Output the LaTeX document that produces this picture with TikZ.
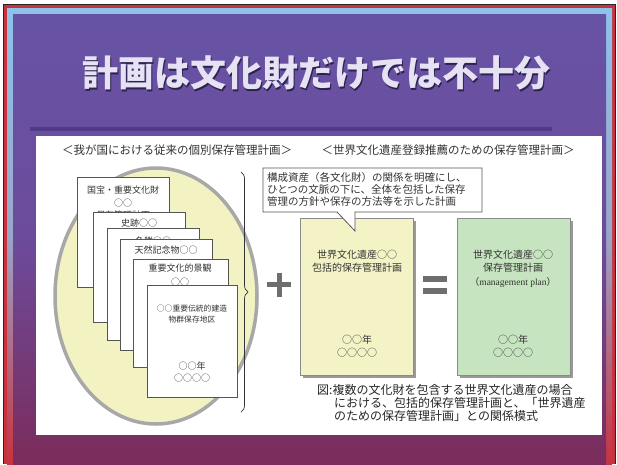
\documentclass[tikz,border=0pt]{standalone}
\usepackage{fontspec}
\newfontfamily\jp{Noto Sans CJK JP}
\newfontfamily\lserif{Liberation Serif}
\usetikzlibrary{decorations.pathreplacing}
\definecolor{slidepurple}{HTML}{6753A4}
\definecolor{slidemid}{HTML}{6C4B9C}
\definecolor{slidemaroon}{HTML}{7B2C5B}
\definecolor{framered}{HTML}{C8323F}
\definecolor{frameblue}{HTML}{8EC3EA}
\definecolor{barpurple}{HTML}{503A86}
\definecolor{ellfill}{HTML}{F3F2C2}
\definecolor{ellline}{HTML}{A8A8A8}
\definecolor{yboxfill}{HTML}{F4F3C6}
\definecolor{gboxfill}{HTML}{C6E4C0}
\definecolor{boxline}{HTML}{8A8A8A}
\definecolor{opgray}{HTML}{6E6E6E}
\definecolor{txtgray}{HTML}{333333}
\definecolor{pageline}{HTML}{555555}
\definecolor{titlecol}{HTML}{E6E2F4}
\definecolor{titleshadow}{HTML}{2B2250}
\tikzset{
  titletext/.style={font=\jp\bfseries\fontsize{36}{40}\selectfont, inner sep=0pt},
  headtext/.style={font=\jp\fontsize{11.5}{13}\selectfont, text=txtgray, inner sep=0pt},
  pagebox/.style={draw=pageline, fill=white, line width=0.8pt, anchor=north west, inner sep=0pt},
  pagetxt/.style={font=\jp\fontsize{9}{11}\selectfont, text=txtgray, inner sep=0pt},
  smalltxt/.style={font=\jp\fontsize{7.8}{10}\selectfont, text=txtgray, inner sep=0pt},
  boxtxt/.style={font=\jp\fontsize{10}{12}\selectfont, text=txtgray, inner sep=0pt},
  bigbox/.style={draw=boxline, line width=0.8pt, anchor=north west, inner sep=0pt, minimum width=113pt, minimum height=157pt},
  boxshadow/.style={fill=black!40},
  calltxt/.style={font=\jp\fontsize{10.5}{12}\selectfont, text=txtgray, inner sep=0pt, align=left},
  captxt/.style={font=\jp\fontsize{12}{13}\selectfont, text=black!85, inner sep=0pt, align=left},
  opbar/.style={fill=opgray}
}
\begin{document}
\begin{tikzpicture}[x=1pt,y=-1pt]
\useasboundingbox (0,0) rectangle (617,464);
% slide background
\fill[white] (0,0) rectangle (617,464);
\fill[black!85] (3,4) rectangle (616,464);
\fill[framered] (4,5) rectangle (615,464);
\shade[top color=frameblue, bottom color=framered, middle color=frameblue!80!framered] (7,8) rectangle (612,464);
\shade[top color=slidepurple, bottom color=slidemaroon, middle color=slidemid] (13,14) rectangle (606,464);
% title
\node[titletext, text=titleshadow] (titleshadow) at (317.5,74.5) {計画は文化財だけでは不十分};
\node[titletext, text=titlecol] (title) at (316,73) {計画は文化財だけでは不十分};
% bar and panel
\fill[barpurple] (30,127) rectangle (552,130.5);
\fill[white] (36,136) rectangle (602,435);
% headers
\node[headtext] (headL) at (177,150) {＜我が国における従来の個別保存管理計画＞};
\node[headtext] (headR) at (448,150) {＜世界文化遺産登録推薦のための保存管理計画＞};
% ellipse
\draw[ellline, fill=ellfill, line width=3.5pt] (156,296) ellipse [x radius=101, y radius=128];
% pages
\node[pagebox, minimum width=92pt, minimum height=110pt] (p1) at (77,177) {};
\node[pagetxt] (p1a) at (123,190) {国宝・重要文化財};
\node[pagetxt] (p1b) at (123,203) {○○};
\node[pagetxt] (p1c) at (123,215) {保存管理計画};
\node[pagebox, minimum width=92pt, minimum height=110pt] (p2) at (93,212) {};
\node[pagetxt] (p2a) at (139,223) {史跡○○};
\node[pagebox, minimum width=92pt, minimum height=112pt] (p3) at (107,228) {};
\node[pagetxt] (p3a) at (153,241) {名勝○○};
\node[pagebox, minimum width=92pt, minimum height=111pt] (p4) at (120,239) {};
\node[pagetxt] (p4a) at (166,250) {天然記念物○○};
\node[pagebox, minimum width=95pt, minimum height=108pt] (p5) at (133,259) {};
\node[pagetxt] (p5a) at (180,268) {重要文化的景観};
\node[pagetxt] (p5b) at (180,282) {○○};
\node[pagebox, minimum width=90pt, minimum height=112pt] (p6) at (147,285) {};
\node[smalltxt] (p6a) at (192,309) {○○重要伝統的建造};
\node[smalltxt] (p6b) at (192,320) {物群保存地区};
\node[pagetxt] (p6c) at (192,366) {○○年};
\node[pagetxt] (p6d) at (192,378) {○○○○};
% brace
\coordinate (braceTop) at (241,172);
\coordinate (braceBot) at (241,412);
\draw[black!80, line width=0.7pt, decorate, decoration={brace, amplitude=7pt}] (braceTop) -- (braceBot);
% plus
\fill[opbar] (267,282) rectangle (291,287);
\fill[opbar] (276.5,273) rectangle (281.5,297);
% yellow box
\fill[boxshadow] (303,221) rectangle (416,378);
\node[bigbox, fill=yboxfill] (ybox) at (300,218) {};
\node[boxtxt] (y1) at (357,255) {世界文化遺産○○};
\node[boxtxt] (y2) at (357,268) {包括的保存管理計画};
\node[boxtxt] (y3) at (357,340) {○○年};
\node[boxtxt] (y4) at (357,353) {○○○○};
% callout
\draw[pageline, fill=white, line width=0.8pt] (263,168) -- (482,168) -- (482,212) -- (355,212) -- (355,231) -- (337,212) -- (263,212) -- cycle;
\node[calltxt, anchor=north west] (callout) at (267,172) {構成資産（各文化財）の関係を明確にし、\\ひとつの文脈の下に、全体を包括した保存\\管理の方針や保存の方法等を示した計画};
% equals
\fill[opbar] (423,276) rectangle (447,282);
\fill[opbar] (423,288) rectangle (447,294);
% green box
\fill[boxshadow] (460,221) rectangle (573,378);
\node[bigbox, fill=gboxfill] (gbox) at (457,218) {};
\node[boxtxt] (g1) at (513,255) {世界文化遺産○○};
\node[boxtxt] (g2) at (513,268) {保存管理計画};
\node[font=\lserif\fontsize{9.5}{11}\selectfont, text=txtgray, inner sep=0pt] (g3) at (513,282) {{\jp （}management plan{\jp ）}};
\node[boxtxt] (g4) at (513,340) {○○年};
\node[boxtxt] (g5) at (513,353) {○○○○};
% caption
\node[captxt, anchor=north west] (caption) at (317,384) {図:複数の文化財を包含する世界文化遺産の場合\\\hspace*{17pt}における、包括的保存管理計画と、「世界遺産\\\hspace*{17pt}のための保存管理計画」との関係模式};
\end{tikzpicture}
\end{document}
